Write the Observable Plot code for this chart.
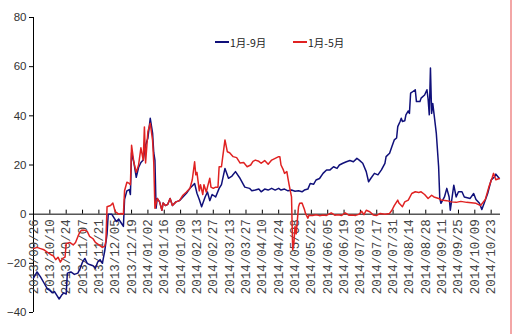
<!DOCTYPE html>
<html><head><meta charset="utf-8">
<script src="https://cdn.jsdelivr.net/npm/d3@7"></script>
<script src="https://cdn.jsdelivr.net/npm/@observablehq/plot@0.6"></script>
<style>
body{margin:0;background:#fff;}
#wrap{position:relative;width:514px;height:334px;overflow:hidden;background:#fff;}
#wrap svg{position:absolute;left:0;top:0;}
.leg{position:absolute;top:34px;font:10.5px "Noto Sans CJK SC",sans-serif;color:#222;display:flex;align-items:center;height:16px;}
.leg i{display:inline-block;width:14px;height:2px;margin-right:1px;}
#edge{position:absolute;left:510px;top:0;width:2px;height:334px;background:#f3a6a6;}
</style></head><body><div id="wrap"></div>
<script>
const seriesNames = ["1月-9月", "1月-5月"];
const seriesColors = ["#10107a", "#e02222"];
const yTicks = [-40, -20, 0, 20, 40, 60, 80];
const xTickLabels = ["2013/09/26","2013/10/10","2013/10/24","2013/11/07","2013/11/21","2013/12/05","2013/12/19","2014/01/02","2014/01/16","2014/01/30","2014/02/13","2014/02/27","2014/03/13","2014/03/27","2014/04/10","2014/04/24","2014/05/08","2014/05/22","2014/06/05","2014/06/19","2014/07/03","2014/07/17","2014/07/31","2014/08/14","2014/08/28","2014/09/11","2014/09/25","2014/10/09","2014/10/23"];
const xDomain = ["2013-09-26", "2014-10-31"];

// 1月-9月
const series9 = [
["2013-09-26",-26],["2013-09-29",-23.5],["2013-10-02",-25.5],["2013-10-05",-28],["2013-10-08",-30.5],["2013-10-10",-31],["2013-10-12",-32],["2013-10-14",-31.5],["2013-10-16",-33],["2013-10-18",-34.5],["2013-10-20",-33],["2013-10-22",-32],["2013-10-24",-32.5],["2013-10-25",-24],["2013-10-28",-23.5],["2013-10-31",-24.5],["2013-11-03",-24],["2013-11-05",-22],["2013-11-07",-19.5],["2013-11-09",-18],["2013-11-11",-20],["2013-11-13",-20.5],["2013-11-16",-21],["2013-11-18",-22],["2013-11-20",-19.5],["2013-11-22",-18.5],["2013-11-24",-20],["2013-11-26",-15],["2013-11-28",-8],["2013-11-29",0],["2013-12-02",0],["2013-12-04",-1.5],["2013-12-06",-3],["2013-12-08",-2],["2013-12-10",-3.5],["2013-12-12",-5],["2013-12-13",6],["2013-12-15",9.5],["2013-12-17",10],["2013-12-18",8],["2013-12-19",25],["2013-12-21",21],["2013-12-23",15],["2013-12-25",19],["2013-12-27",21],["2013-12-29",22],["2013-12-31",28],["2014-01-02",31],["2014-01-04",39],["2014-01-06",33],["2014-01-07",25],["2014-01-08",22],
["2014-01-09",2.4],["2014-01-10",6.4],["2014-01-12",5],["2014-01-14",1.6],["2014-01-15",4.5],["2014-01-17",3.5],["2014-01-19",4],["2014-01-21",6.4],["2014-01-23",3.5],["2014-01-26",5],["2014-01-29",5.5],
["2014-02-01",7],["2014-02-04",8.5],["2014-02-07",10.5],["2014-02-11",12.5],["2014-02-13",8.5],["2014-02-15",6],["2014-02-17",3],["2014-02-20",7],["2014-02-22",9],["2014-02-24",5.5],["2014-02-26",8],["2014-03-01",7],["2014-03-04",10.5],["2014-03-06",12],["2014-03-09",18.6],["2014-03-12",14.6],["2014-03-15",15.5],["2014-03-18",17.3],["2014-03-22",14.5],["2014-03-26",11],["2014-03-30",10.5],["2014-04-01",9.5],
["2014-04-04",9.8],["2014-04-07",10.2],["2014-04-09",9.1],["2014-04-12",10.2],["2014-04-15",9.8],["2014-04-18",10.5],["2014-04-21",9.8],["2014-04-24",10.5],["2014-04-26",9.8],["2014-04-29",10.2],["2014-05-02",9.5],["2014-05-05",9.8],["2014-05-08",9.3],["2014-05-11",9.5],["2014-05-14",9.1],["2014-05-16",9.8],["2014-05-19",10.2],["2014-05-21",12.5],["2014-05-24",12.2],["2014-05-26",13.9],["2014-05-29",14.5],["2014-06-01",16.6],["2014-06-04",18],["2014-06-07",18],["2014-06-10",19.3],["2014-06-13",18.6],["2014-06-15",20],["2014-06-18",20.7],["2014-06-21",21.3],["2014-06-24",21.8],["2014-06-27",21.3],["2014-06-30",22.7],["2014-07-02",22],["2014-07-05",20.7],["2014-07-08",17.3],["2014-07-10",13.2],["2014-07-12",14.6],["2014-07-15",16.6],["2014-07-18",16],["2014-07-21",18],["2014-07-24",20.7],
["2014-07-25",23.4],["2014-07-28",24.8],["2014-07-30",27.5],["2014-08-01",30.2],["2014-08-03",31],["2014-08-04",35.6],["2014-08-06",37.7],["2014-08-07",39],["2014-08-08",37.7],["2014-08-10",38],["2014-08-11",40.4],["2014-08-13",42],["2014-08-14",41],["2014-08-15",49.2],["2014-08-17",49.9],["2014-08-19",50.6],["2014-08-20",45.8],["2014-08-23",45.8],["2014-08-24",47.2],["2014-08-27",48.5],["2014-08-29",50.6],["2014-08-30",46.8],["2014-08-31",40.4],["2014-09-01",59.5],["2014-09-02",41],["2014-09-03",45],["2014-09-04",41],["2014-09-06",33],["2014-09-08",19.3],["2014-09-09",6.4],
["2014-09-10",4.4],["2014-09-13",7],["2014-09-15",10.5],["2014-09-17",7],["2014-09-18",1.6],["2014-09-21",11.8],["2014-09-23",7],["2014-09-25",9.1],["2014-09-28",9.1],["2014-09-30",7],["2014-10-05",6.4],["2014-10-08",8.4],["2014-10-10",6],["2014-10-13",4.4],["2014-10-15",1.9],["2014-10-17",4.4],["2014-10-20",8.4],["2014-10-23",13.9],["2014-10-26",15.2],["2014-10-27",16.3],["2014-10-30",14.5]
];

// 1月-5月
const series5 = [
["2013-09-26",-14],["2013-09-29",-13.5],["2013-10-02",-14],["2013-10-05",-14.5],["2013-10-08",-15.5],["2013-10-11",-16.5],["2013-10-13",-17],["2013-10-15",-18.5],["2013-10-17",-17.5],["2013-10-19",-19.5],["2013-10-21",-18],["2013-10-23",-17.5],["2013-10-24",-12],["2013-10-27",-11.5],["2013-10-30",-12.5],["2013-11-01",-11.5],["2013-11-04",-8],["2013-11-06",-6.5],["2013-11-09",-6.5],["2013-11-11",-7],["2013-11-13",-9],["2013-11-16",-10],["2013-11-18",-11.5],["2013-11-21",-12.5],["2013-11-24",-13.5],["2013-11-26",-13],["2013-11-27",-11],["2013-11-28",3],["2013-12-01",3.5],["2013-12-03",4.5],["2013-12-05",1],["2013-12-08",0],["2013-12-10",0.3],["2013-12-12",0],["2013-12-13",9.5],["2013-12-15",13],["2013-12-17",12.5],["2013-12-18",12],["2013-12-19",28],["2013-12-21",21],["2013-12-23",17],["2013-12-25",20],["2013-12-27",27],["2013-12-29",22],["2013-12-30",35.5],["2013-12-31",20.8],["2014-01-02",33.6],["2014-01-04",37],["2014-01-06",30],["2014-01-07",21],
["2014-01-08",2.4],["2014-01-10",6.4],["2014-01-12",5],["2014-01-14",1.6],["2014-01-15",4.5],["2014-01-17",3.5],["2014-01-19",4],["2014-01-21",6.4],["2014-01-23",3.5],["2014-01-26",5],["2014-01-29",5.5],["2014-02-01",7.7],["2014-02-04",9],["2014-02-07",10.5],["2014-02-09",14],["2014-02-11",21.3],["2014-02-12",16],["2014-02-13",17],["2014-02-15",9.5],["2014-02-16",12],["2014-02-18",8],["2014-02-19",12],["2014-02-21",9],["2014-02-22",11],["2014-02-24",14.6],["2014-02-25",11],["2014-02-27",10.5],["2014-03-01",11],["2014-03-03",11],["2014-03-04",19.3],["2014-03-06",19.3],["2014-03-07",23],["2014-03-09",30.2],["2014-03-11",25.4],["2014-03-13",25],["2014-03-16",23.4],["2014-03-19",23],["2014-03-22",20.8],["2014-03-25",21],["2014-03-28",19.3],["2014-03-31",20],["2014-04-02",21.5],
["2014-04-04",22],["2014-04-07",21.5],["2014-04-09",20.7],["2014-04-12",21.8],["2014-04-15",20.3],["2014-04-18",22],["2014-04-21",22.7],["2014-04-24",23.4],["2014-04-25",23.4],["2014-04-26",20],["2014-04-28",18],["2014-04-29",16.6],["2014-05-01",17.3],["2014-05-02",14.5],["2014-05-03",11.8],["2014-05-05",7],["2014-05-06",-14.5],["2014-05-07",-12],["2014-05-08",-5],["2014-05-09",-8],["2014-05-11",3],["2014-05-12",4.4],["2014-05-14",4.5],["2014-05-16",2],["2014-05-17",0.3],["2014-05-19",-1.6],["2014-05-20",-0.4],
["2014-05-23",-0.5],["2014-05-26",-0.2],["2014-05-29",-0.6],["2014-06-01",-0.3],["2014-06-04",-0.5],["2014-06-08",0.5],["2014-06-11",-0.4],["2014-06-14",-0.2],["2014-06-17",-0.5],["2014-06-20",0.5],["2014-06-23",-0.4],["2014-06-26",-0.3],["2014-06-29",-0.5],["2014-07-02",0],["2014-07-04",1.2],["2014-07-06",-0.2],["2014-07-08",1.6],["2014-07-11",1],["2014-07-14",-0.3],["2014-07-17",-0.5],["2014-07-20",0.3],["2014-07-24",0],["2014-07-28",0.3],
["2014-07-30",1.6],["2014-08-01",3.5],["2014-08-04",5.7],["2014-08-05",4.5],["2014-08-08",3],["2014-08-10",5],["2014-08-13",5.7],["2014-08-16",8.4],["2014-08-19",9.1],["2014-08-22",8.8],["2014-08-24",9.1],["2014-08-27",8],["2014-08-30",6.4],["2014-09-02",7.7],["2014-09-04",7],["2014-09-08",6.4],["2014-09-10",5.8],["2014-09-15",5.5],["2014-09-19",5],["2014-09-23",4.8],["2014-09-27",5.2],["2014-10-02",4.8],["2014-10-06",4.6],["2014-10-10",4.4],["2014-10-14",3.5],["2014-10-18",6],["2014-10-21",11],["2014-10-24",15],["2014-10-25",16.6],["2014-10-27",14],["2014-10-30",14.5]
];

const parse = d3.utcParse("%Y-%m-%d");
const toRows = (arr) => arr.map(([d, v]) => ({date: parse(d), value: v}));
const rows9 = toRows(series9);
const rows5 = toRows(series5);
const tickDates = xTickLabels.map(s => d3.utcParse("%Y/%m/%d")(s));
const dom = xDomain.map(parse);

const chart = Plot.plot({
  width: 514, height: 334,
  marginLeft: 33, marginRight: 14, marginTop: 17, marginBottom: 22,
  style: {background: "transparent"},
  x: {type: "utc", domain: dom, axis: null},
  y: {domain: [-40, 80], axis: null},
  marks: [
    Plot.axisY(yTicks, {label: null, tickSize: 4, tickPadding: 3, fontSize: 11.5, fontFamily: "Liberation Sans", fill: "#333", stroke: "#000", strokeWidth: 1}),
    Plot.ruleX([dom[0]], {y1: -40, y2: 80, stroke: "#000", strokeWidth: 1}),
    Plot.ruleY([0], {stroke: "#000", strokeWidth: 1}),
    Plot.ruleX(tickDates, {x: d => d, y1: 0, y2: 0, insetTop: -4, stroke: "#000", strokeWidth: 1}),
    Plot.text(tickDates, {x: d => d, y: () => 0, text: (d, i) => xTickLabels[i], rotate: -90, textAnchor: "end", dy: 5, fontSize: 12.5, fontFamily: "Liberation Mono", fill: "#444"}),
    Plot.line(rows9, {x: "date", y: "value", stroke: seriesColors[0], strokeWidth: 1.5}),
    Plot.line(rows5, {x: "date", y: "value", stroke: seriesColors[1], strokeWidth: 1.5})
  ]
});
const wrap = document.getElementById("wrap");
wrap.appendChild(chart);
const legX = [215, 293];
seriesNames.forEach((n, i) => {
  const el = document.createElement("div");
  el.className = "leg";
  el.style.left = legX[i] + "px";
  el.innerHTML = `<i style="background:${seriesColors[i]}"></i><span>${n}</span>`;
  wrap.appendChild(el);
});
const edge = document.createElement("div");
edge.id = "edge";
wrap.appendChild(edge);
</script>
</body></html>
